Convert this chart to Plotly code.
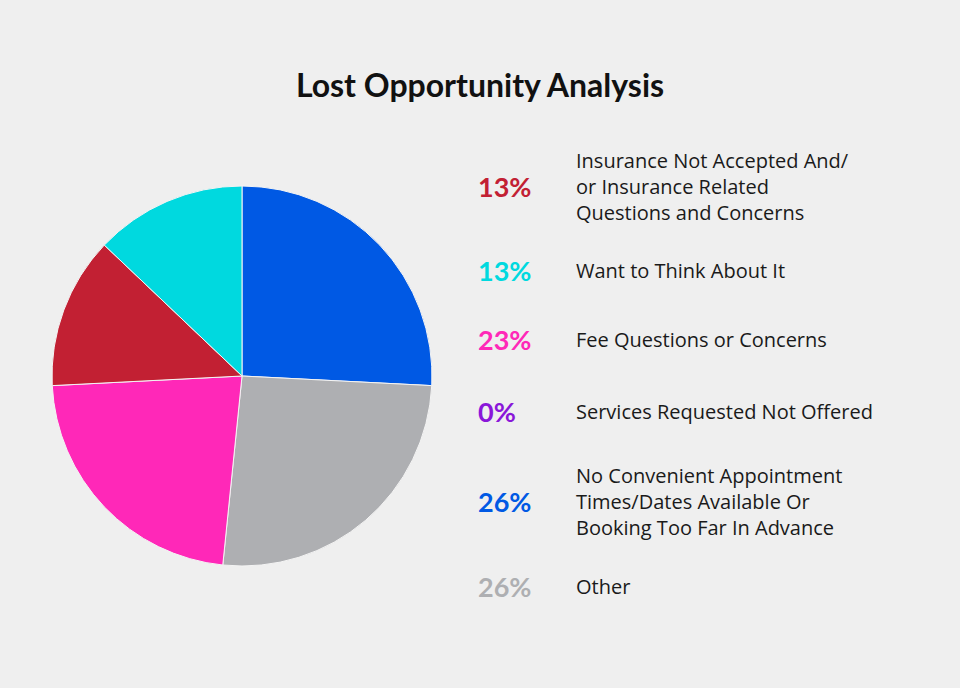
import plotly.graph_objects as go

# Data (legend order)
categories = [
    "Insurance Not Accepted And/<br>or Insurance Related<br>Questions and Concerns",
    "Want to Think About It",
    "Fee Questions or Concerns",
    "Services Requested Not Offered",
    "No Convenient Appointment<br>Times/Dates Available Or<br>Booking Too Far In Advance",
    "Other",
]
counts = [4, 4, 7, 0, 8, 8]
percent_labels = ["13%", "13%", "23%", "0%", "26%", "26%"]

# Styles
colors = ["#C22033", "#00D9DF", "#FF28B8", "#8A17D9", "#0059E4", "#AEAFB2"]
pie_order = [4, 5, 2, 3, 0, 1]  # clockwise from 12 o'clock
row_y_px = [187, 270, 339, 412, 501, 586]

W, H = 960, 688
BG = "#EFEFEF"

pie_idx = [i for i in pie_order if counts[i] > 0]
fig = go.Figure(go.Pie(
    labels=[categories[i].replace("<br>", " ") for i in pie_idx],
    values=[counts[i] for i in pie_idx],
    marker=dict(colors=[colors[i] for i in pie_idx], line=dict(color="#F4F4F4", width=1)),
    sort=False,
    direction="clockwise",
    rotation=0,
    textinfo="none",
    hoverinfo="label+percent",
    domain=dict(x=[52 / W, 432 / W], y=[1 - 566 / H, 1 - 186 / H]),
    showlegend=False,
))

annotations = []
for i, cat in enumerate(categories):
    yp = 1 - row_y_px[i] / H
    annotations.append(dict(
        x=476 / W, y=yp, xref="paper", yref="paper",
        xanchor="left", yanchor="middle", showarrow=False,
        text="<b>%s</b>" % percent_labels[i],
        font=dict(family="Lato", size=27, color=colors[i]),
    ))
    annotations.append(dict(
        x=574 / W, y=yp, xref="paper", yref="paper",
        xanchor="left", yanchor="middle", showarrow=False, align="left",
        text=cat,
        font=dict(family="Open Sans", size=20, color="#1A1A1A"),
    ))

fig.update_layout(
    width=W, height=H,
    margin=dict(l=0, r=0, t=0, b=0),
    paper_bgcolor=BG, plot_bgcolor=BG,
    title=dict(text="<b>Lost Opportunity Analysis</b>", x=0.5, xanchor="center",
               y=1 - 86 / H, yanchor="middle",
               font=dict(family="Lato", size=32, color="#111111")),
    annotations=annotations,
)

fig.write_html("out.html")
